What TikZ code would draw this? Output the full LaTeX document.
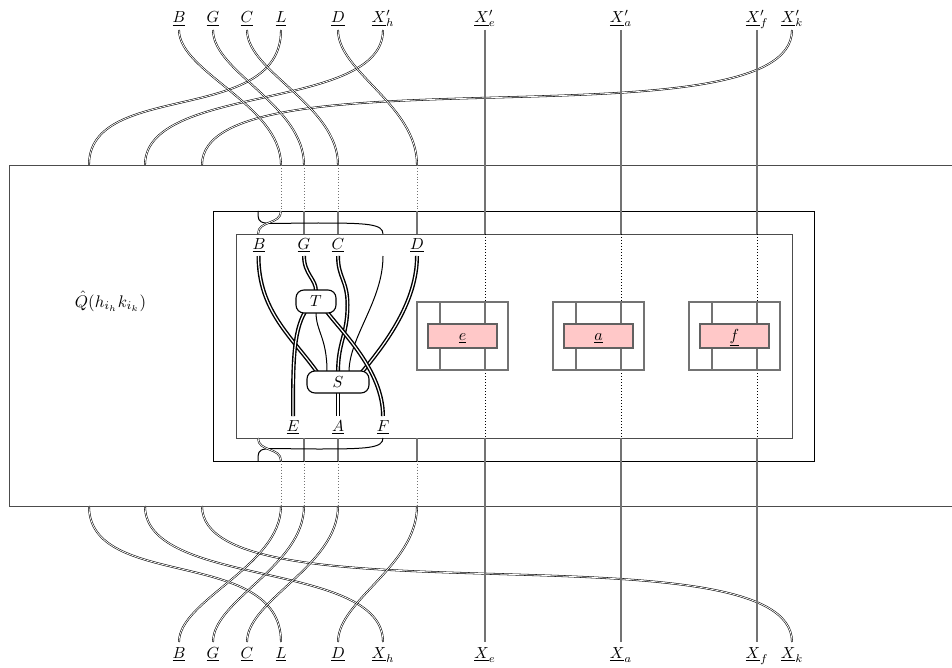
\documentclass[tikz,border=0pt]{standalone}
\tikzset{
  wire/.style={draw=black,double=white,line width=.55pt,double distance=.8pt},
  flatwire/.style={draw=black!55,line width=1.15pt},
  thickwire/.style={draw=black,double=white,line width=1.4pt,double distance=1.2pt},
  thinblack/.style={draw=black,line width=1pt},
  dots/.style={draw=black!55,line width=.9pt,dotted},
  fine/.style={draw=black,line width=.6pt,dash pattern=on .6pt off 2.4pt},
  boxline/.style={draw=black!70,line width=.8pt},
  lab/.style={anchor=base,inner sep=0pt,scale=1.6},
  gate/.style={draw=black,line width=1.1pt,fill=white,rounded corners=8pt,inner sep=0pt}
}
\definecolor{pinkfill}{HTML}{FFC8C8}
\begin{document}
\begin{tikzpicture}[x=1pt,y=-1pt]
\useasboundingbox (0,0) rectangle (952,668);
% boxes
\coordinate (oTR) at (952,165); \coordinate (oTL) at (9,165);
\coordinate (oBL) at (9,506); \coordinate (oBR) at (952,506);
\draw[boxline] (oTR) -- (oTL) -- (oBL) -- (oBR);
\node[draw=black,line width=.6pt,minimum width=601pt,minimum height=250pt,inner sep=0pt] (mid) at (513.5,336) {};
\node[boxline,minimum width=556pt,minimum height=204pt,inner sep=0pt] (inn) at (514,336) {};
\node[lab,scale=1.05] (Q) at (110.5,307) {$\hat{Q}(h_{i_h}k_{i_k})$};
% top labels
\foreach \n/\x/\t in {B/179/B,G/213/G,C/247/C,L/281/L,D/338/D}{
  \node[lab] (lt\n) at (\x,23) {$\underline{\t}$};
  \coordinate (t\n) at (\x,30);
  \node[lab] (lb\n) at (\x,658) {$\underline{\t}$};
  \coordinate (b\n) at (\x,642);
}
\node[lab] (ltH) at (383,23) {$\underline{X}'_h$}; \coordinate (tH) at (383,30);
\node[lab] (lbH) at (383,658) {$\underline{X}_h$}; \coordinate (bH) at (383,642);
\node[lab] (ltE) at (485,23) {$\underline{X}'_e$}; \coordinate (tE) at (485,30);
\node[lab] (lbE) at (485,658) {$\underline{X}_e$}; \coordinate (bE) at (485,642);
\node[lab] (ltA) at (621,23) {$\underline{X}'_a$}; \coordinate (tA) at (621,30);
\node[lab] (lbA) at (621,658) {$\underline{X}_a$}; \coordinate (bA) at (621,642);
\node[lab] (ltF) at (757,23) {$\underline{X}'_f$}; \coordinate (tF) at (757,30);
\node[lab] (lbF) at (757,658) {$\underline{X}_f$}; \coordinate (bF) at (757,642);
\node[lab] (ltK) at (792,23) {$\underline{X}'_k$}; \coordinate (tK) at (792,30);
\node[lab] (lbK) at (792,658) {$\underline{X}_k$}; \coordinate (bK) at (792,642);
% ports on outer box
\foreach \n/\x in {a/89,b/145,c/202,d/281,e/304,f/338,g/417,h/485,i/621,j/757}{
  \coordinate (ot\n) at (\x,165);
  \coordinate (ob\n) at (\x,506);
}
\foreach \n/\x in {d/281,e/304,f/338,g/417}{
  \coordinate (mt\n) at (\x,211);
  \coordinate (mb\n) at (\x,461);
}
\foreach \n/\x in {e/304,f/338,g/417,h/485,i/621,j/757}{
  \coordinate (it\n) at (\x,234);
  \coordinate (ib\n) at (\x,438);
}
\coordinate (itb) at (258,234); \coordinate (ibb) at (258,438);
\coordinate (mtb) at (258,211); \coordinate (mbb) at (258,461);
\coordinate (itx) at (383,234); \coordinate (ibx) at (383,438);
\coordinate (bandt) at (318,223); \coordinate (bandb) at (318,449);
% top crossing wires
\draw[wire] (tL) .. controls +(0,96) and +(0,-85) .. (ota);
\draw[wire] (tH) .. controls +(0,82) and +(0,-82) .. (otb);
\draw[wire] (tK) .. controls +(0,119) and +(0,-119) .. (otc);
\draw[wire] (tB) .. controls +(0,42) and +(0,-60) .. (otd);
\draw[wire] (tG) .. controls +(0,42) and +(0,-60) .. (ote);
\draw[wire] (tC) .. controls +(0,42) and +(0,-60) .. (otf);
\draw[wire] (tD) .. controls +(0,42) and +(0,-60) .. (otg);
\draw[flatwire] (tE) -- (ith);
\draw[flatwire] (tA) -- (iti);
\draw[flatwire] (tF) -- (itj);
% bottom crossing wires
\draw[wire] (bL) .. controls +(0,-96) and +(0,85) .. (oba);
\draw[wire] (bH) .. controls +(0,-82) and +(0,82) .. (obb);
\draw[wire] (bK) .. controls +(0,-119) and +(0,119) .. (obc);
\draw[wire] (bB) .. controls +(0,-42) and +(0,60) .. (obd);
\draw[wire] (bG) .. controls +(0,-42) and +(0,60) .. (obe);
\draw[wire] (bC) .. controls +(0,-42) and +(0,60) .. (obf);
\draw[wire] (bD) .. controls +(0,-42) and +(0,60) .. (obg);
\draw[flatwire] (ibh) -- (bE);
\draw[flatwire] (ibi) -- (bA);
\draw[flatwire] (ibj) -- (bF);
% dotted passes
\foreach \n in {d,e,f,g}{
  \draw[dots] (ot\n) -- (mt\n);
  \draw[dots] (mb\n) -- (ob\n);
}
\foreach \n in {e,f,g}{
  \draw[flatwire] (mt\n) -- (it\n);
  \draw[flatwire] (ib\n) -- (mb\n);
}
% band crossings
\draw[thinblack] (mtb) .. controls +(0,16) and +(-60,0) .. (bandt) .. controls +(50,0) and +(0,-10) .. (itx);
\draw[wire] (mtd) .. controls +(0,14) and +(0,-14) .. (itb);
\draw[thinblack] (mbb) .. controls +(0,-16) and +(-60,0) .. (bandb) .. controls +(50,0) and +(0,10) .. (ibx);
\draw[wire] (mbd) .. controls +(0,-14) and +(0,14) .. (ibb);
% inner labels
\node[lab] (iB) at (259,249) {$\underline{B}$};
\node[lab] (iG) at (304,249) {$\underline{G}$};
\node[lab] (iC) at (338,249) {$\underline{C}$};
\node[lab] (iD) at (417,249) {$\underline{D}$};
\node[lab] (iE) at (293,431) {$\underline{E}$};
\node[lab] (iA) at (338,431) {$\underline{A}$};
\node[lab] (iF) at (383,431) {$\underline{F}$};
\coordinate (wB) at (258.5,256); \coordinate (wG) at (304,256);
\coordinate (wC) at (338,256); \coordinate (wX) at (383,256);
\coordinate (wD) at (417,256); \coordinate (wE) at (293,416);
\coordinate (wA) at (338,416); \coordinate (wF) at (383,416);
\coordinate (wCm) at (347.5,305);
% gates
\coordinate (Tc) at (316,301.5); \coordinate (Sm) at (338,382);
\coordinate (Tt) at (316,291); \coordinate (Tbl) at (305,312);
\coordinate (Tbm) at (316,312); \coordinate (Tbr) at (327,312);
\coordinate (Sa) at (317,372); \coordinate (Sb) at (327,372);
\coordinate (Sc) at (338,372); \coordinate (Sd) at (349,372);
\coordinate (Se) at (362,372); \coordinate (Sf) at (338,392);
% inner wires
\draw[thickwire] (wG) .. controls +(0,18) and +(0,-12) .. (Tt);
\draw[thickwire] (wB) .. controls +(0,55) and +(-25,-35) .. (Sa);
\draw[thinblack] (wX) .. controls +(0,45) and +(0,-35) .. (Sd);
\draw[thickwire] (wC) .. controls +(0,22) and +(0,-25) .. (wCm) .. controls +(0,30) and +(0,-30) .. (Sc);
\draw[thickwire] (wD) .. controls +(0,45) and +(25,-30) .. (Se);
\draw[thinblack] (Tbm) .. controls +(0,20) and +(0,-35) .. (Sb);
\draw[thickwire] (Tbl) .. controls +(-12,20) and +(0,-50) .. (wE);
\draw[thickwire] (Tbr) .. controls +(15,20) and +(0,-45) .. (wF);
\draw[thickwire] (Sf) -- (wA);
\node[gate,minimum width=40pt,minimum height=23pt] (T) at (Tc) {};
\node[gate,minimum width=62pt,minimum height=22pt] (S) at (Sm) {};
\node[lab] (Tl) at (316,306) {$T$};
\node[lab] (Sl) at (338,387) {$S$};
% e a f blocks
\foreach \n/\l/\ox in {e/e/417,a/a/553,f/f/689}{
  \pgfmathsetmacro{\va}{\ox+23}
  \pgfmathsetmacro{\vb}{\ox+68}
  \pgfmathsetmacro{\cx}{\ox+45.5}
  \coordinate (va\n) at (\va,302); \coordinate (wa\n) at (\va,370);
  \coordinate (vb\n) at (\vb,302); \coordinate (wb\n) at (\vb,370);
  \coordinate (vt\n) at (\vb,234); \coordinate (vu\n) at (\vb,438);
  \draw[flatwire] (va\n) -- (wa\n);
  \draw[flatwire] (vb\n) -- (wb\n);
  \draw[fine] (vt\n) -- (vb\n);
  \draw[fine] (wb\n) -- (vu\n);
  \node[flatwire,minimum width=91pt,minimum height=68pt,inner sep=0pt] (fr\n) at (\cx,336) {};
  \node[draw=black!62,fill=pinkfill,line width=1.3pt,minimum width=69pt,minimum height=24pt,inner sep=0pt] (p\n) at (\cx,336) {};
  \node[lab] (t\n) at (\cx,340) {$\underline{\l}$};
}
\end{tikzpicture}
\end{document}
